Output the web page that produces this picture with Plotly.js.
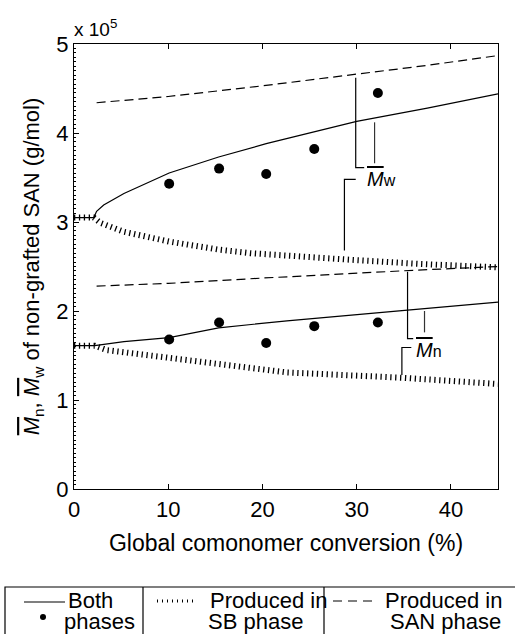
<!DOCTYPE html>
<html>
<head>
<meta charset="utf-8">
<script src="https://cdn.plot.ly/plotly-3.0.1.min.js"></script>
<style>
  html, body { margin: 0; padding: 0; background: #fff; }
  #chart { width: 515px; height: 634px; }
</style>
</head>
<body>
<div id="chart"></div>
<script>
// ---- data (g/mol vs global comonomer conversion, %) ----
const mwBothX = [0, 2.1, 2.4, 3.15, 5.3, 7.8, 10.1, 15.35, 20.4, 30, 37.5, 45];
const mwBothY = [305000, 305000, 312000, 319000, 332000, 344000, 355000, 373000, 388000, 413000, 428000, 444000];
const mwSanX  = [2.4, 10, 20, 30, 37.5, 45];
const mwSanY  = [434000, 441000, 453000, 466000, 476000, 487000];
const mwSbX   = [0, 2.1, 2.8, 5.3, 10.1, 15.35, 18.7, 22.6, 28.7, 36.5, 45];
const mwSbY   = [305000, 305000, 299000, 289000, 278000, 269000, 265000, 262000, 258000, 253000, 249000];

const mnBothX = [0, 2.2, 5.3, 10.1, 15.35, 22.6, 35.4, 45];
const mnBothY = [161000, 161000, 165500, 170000, 181000, 189000, 201000, 210000];
const mnSanX  = [2.4, 10, 20, 28.7, 36.5, 45];
const mnSanY  = [228000, 231000, 237000, 242000, 246000, 250000];
const mnSbX   = [0, 2.2, 3.5, 10.1, 15.35, 22.6, 34.8, 45];
const mnSbY   = [161000, 161000, 156000, 147000, 140000, 131000, 125000, 118000];

const ptX  = [10.1, 15.4, 20.4, 25.5, 32.25];
const ptMw = [343000, 360000, 354000, 382000, 445000];
const ptMn = [168000, 187000, 164000, 183000, 187000];

const yTickVals = [0, 100000, 200000, 300000, 400000, 500000];
const yTickText = ['0', '1', '2', '3', '4', '5'];
const xTickVals = [0, 10, 20, 30, 40];

const legendTexts = {
  both: ['Both', 'phases'],
  sb: ['Produced in', 'SB phase'],
  san: ['Produced in', 'SAN phase']
};

// ---- styling ----
const FONT = 'Liberation Sans, Arial, Helvetica, sans-serif';
const solid = {color: '#000', width: 1.2, dash: 'solid'};
const dotted = {color: '#000', width: 6, dash: '1.3px,3.6px'};
const dashed = {color: '#000', width: 1.2, dash: '9px,5px'};

function line(x, y, ln) {
  return {x: x, y: y, type: 'scatter', mode: 'lines', line: ln, hoverinfo: 'skip', showlegend: false};
}

const traces = [
  line(mwSbX, mwSbY, dotted),
  line(mnSbX, mnSbY, dotted),
  line(mwSanX, mwSanY, dashed),
  line(mnSanX, mnSanY, dashed),
  line(mwBothX, mwBothY, solid),
  line(mnBothX, mnBothY, solid),
  {x: ptX, y: ptMw, type: 'scatter', mode: 'markers', marker: {color: '#000', size: 10}, showlegend: false},
  {x: ptX, y: ptMn, type: 'scatter', mode: 'markers', marker: {color: '#000', size: 10}, showlegend: false}
];

// pixel -> paper helpers for the boxed legend below the plot
const L = 74, R = 17, T = 44, B = 145, W = 515, H = 634;
const pw = W - L - R, ph = H - T - B;
const px = v => (v - L) / pw;
const py = v => (H - B - v) / ph;

const MW = '<i><span style="text-decoration:overline">M</span></i>';

const shapes = [
  // Mw leader lines
  {type: 'path', xref: 'x', yref: 'y', path: 'M29.9,462000 L29.9,361000 L30.8,361000', line: {color: '#000', width: 1.2}},
  {type: 'line', xref: 'x', yref: 'y', x0: 31.9, x1: 31.9, y0: 412000, y1: 366000, line: {color: '#333', width: 1.2}},
  {type: 'path', xref: 'x', yref: 'y', path: 'M28.7,268000 L28.7,348000 L29.9,348000', line: {color: '#000', width: 1.2}},
  // Mn leader lines
  {type: 'path', xref: 'x', yref: 'y', path: 'M35.4,244000 L35.4,169000 L36.0,169000', line: {color: '#000', width: 1.2}},
  {type: 'line', xref: 'x', yref: 'y', x0: 37.2, x1: 37.2, y0: 200000, y1: 176000, line: {color: '#333', width: 1.2}},
  {type: 'path', xref: 'x', yref: 'y', path: 'M34.8,128000 L34.8,159000 L35.8,159000', line: {color: '#000', width: 1.2}},
  // boxed legend
  {type: 'rect', xref: 'paper', yref: 'paper', x0: px(5), x1: px(518), y0: py(587), y1: py(640), line: {color: '#000', width: 1.2}},
  {type: 'line', xref: 'paper', yref: 'paper', x0: px(143), x1: px(143), y0: py(587), y1: py(640), line: {color: '#000', width: 1.2}},
  {type: 'line', xref: 'paper', yref: 'paper', x0: px(324), x1: px(324), y0: py(587), y1: py(640), line: {color: '#000', width: 1.2}},
  {type: 'line', xref: 'paper', yref: 'paper', x0: px(24), x1: px(65), y0: py(602), y1: py(602), line: {color: '#000', width: 1.2}},
  {type: 'circle', xref: 'paper', yref: 'paper', x0: px(40), x1: px(46), y0: py(614), y1: py(620), fillcolor: '#000', line: {color: '#000', width: 0}},
  {type: 'line', xref: 'paper', yref: 'paper', x0: px(157), x1: px(196), y0: py(601), y1: py(601), line: {color: '#000', width: 3, dash: '1px,4px'}},
  {type: 'line', xref: 'paper', yref: 'paper', x0: px(333), x1: px(374), y0: py(601), y1: py(601), line: {color: '#000', width: 1.2, dash: '9px,6px'}}
];

function legendText(text, x, y, anchor) {
  return {xref: 'paper', yref: 'paper', x: px(x), y: py(y), text: text, showarrow: false,
          xanchor: anchor, yanchor: 'middle', font: {family: FONT, size: 22, color: '#000'}};
}

const annotations = [
  {xref: 'paper', yref: 'paper', x: px(72), y: py(28), text: 'x 10<sup>5</sup>', showarrow: false,
   xanchor: 'left', yanchor: 'middle', font: {family: FONT, size: 19, color: '#000'}},
  {xref: 'x', yref: 'y', x: 32.6, y: 348000, text: MW + '<span style="font-size:16px">w</span>', showarrow: false,
   xanchor: 'center', yanchor: 'middle', font: {family: FONT, size: 20, color: '#000'}},
  {xref: 'x', yref: 'y', x: 37.7, y: 156000, text: MW + '<span style="font-size:16px">n</span>', showarrow: false,
   xanchor: 'center', yanchor: 'middle', font: {family: FONT, size: 20, color: '#000'}},
  legendText(legendTexts.both[0], 66, 600, 'left'),
  legendText(legendTexts.both[1], 62, 621, 'left'),
  legendText(legendTexts.sb[0], 208, 600, 'left'),
  legendText(legendTexts.sb[1], 206, 621, 'left'),
  legendText(legendTexts.san[0], 504, 600, 'right'),
  legendText(legendTexts.san[1], 503, 621, 'right')
];

const layout = {
  width: W, height: H,
  margin: {l: L, r: R, t: T, b: B, pad: 0},
  paper_bgcolor: '#fff', plot_bgcolor: '#fff',
  font: {family: FONT, color: '#000'},
  showlegend: false,
  xaxis: {
    range: [0, 45], tickmode: 'array', tickvals: xTickVals,
    ticks: 'inside', ticklen: 5, tickcolor: '#000', tickwidth: 1,
    showline: true, linecolor: '#000', linewidth: 1.2, mirror: 'ticks',
    showgrid: false, zeroline: false,
    tickfont: {family: FONT, size: 22, color: '#000'},
    title: {text: 'Global comonomer conversion (%)', font: {family: FONT, size: 23, color: '#000'}, standoff: 14}
  },
  yaxis: {
    range: [0, 500000], tickmode: 'array', tickvals: yTickVals, ticktext: yTickText,
    ticks: 'inside', ticklen: 5, tickcolor: '#000', tickwidth: 1,
    minor: {tickmode: 'linear', tick0: 0, dtick: 5000, ticks: 'inside', ticklen: 2, tickcolor: '#000', tickwidth: 1},
    showline: true, linecolor: '#000', linewidth: 1.2, mirror: true,
    showgrid: false, zeroline: false,
    tickfont: {family: FONT, size: 22, color: '#000'},
    title: {text: MW + '<sub>n</sub>, ' + MW + '<sub>w</sub> of non-grafted SAN (g/mol)',
            font: {family: FONT, size: 22, color: '#000'}, standoff: 10}
  },
  yaxis2: {
    overlaying: 'y', side: 'right', range: [0, 500000], tickmode: 'array', tickvals: yTickVals,
    ticks: 'inside', ticklen: 5, tickcolor: '#000', tickwidth: 1,
    showticklabels: false, showline: false, showgrid: false, zeroline: false
  },
  shapes: shapes,
  annotations: annotations
};

Plotly.newPlot('chart', traces, layout, {staticPlot: true, displayModeBar: false});
</script>
</body>
</html>
